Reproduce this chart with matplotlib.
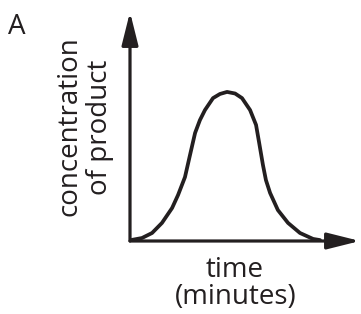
import matplotlib.pyplot as plt

# points (time in arbitrary units, concentration in arbitrary units)
time_vals = [0.04, 0.52, 0.96, 1.39, 1.83, 2.09, 2.39, 2.61, 2.83, 3.04, 3.26, 3.61,
             3.91, 4.22, 4.57, 4.87, 5.22, 5.48, 5.61, 5.78, 5.91, 6.09, 6.43,
             6.87, 7.39, 7.96, 8.26]
conc_vals = [0.04, 0.13, 0.35, 0.79, 1.44, 2.01, 2.79, 3.76, 4.72, 5.28, 5.72, 6.24,
             6.42, 6.51, 6.44, 6.24, 5.72, 5.07, 4.32, 3.32, 2.66, 2.10, 1.35,
             0.79, 0.35, 0.09, 0.04]

x_label_1 = 'time'
x_label_2 = '(minutes)'
y_label_1 = 'concentration'
y_label_2 = 'of product'
panel = 'A'

ink = '#231f20'
W, H = 361, 314

fig = plt.figure(figsize=(W / 100, H / 100), dpi=100)
plt.rcParams['font.family'] = ['Open Sans', 'DejaVu Sans']

# axes: origin at (130, 241) px, arrow tips at x=360 and y=12
ax = fig.add_axes([130 / W, (H - 241) / H, (360 - 130) / W, (241 - 12) / H])
ax.set_xlim(0, 10)
ax.set_ylim(0, 10)
ax.axis('off')

arrow = dict(arrowstyle='-|>,head_length=2.0,head_width=0.5', lw=2.3,
             color=ink, shrinkA=0, shrinkB=0)
ax.annotate('', xy=(1, 0), xytext=(0, 0), xycoords='axes fraction',
            arrowprops=arrow)
ax.annotate('', xy=(0, 1), xytext=(0, 0), xycoords='axes fraction',
            arrowprops=arrow)

ax.plot(time_vals, conc_vals, color=ink, lw=2.7, solid_capstyle='round',
        solid_joinstyle='round', clip_on=False)

fs = 20
fig.text(8 / W, 1 - 13 / H, panel, fontsize=20, color=ink, ha='left', va='top')
fig.text(77 / W, 1 - 126 / H, y_label_1, fontsize=fs, color=ink, rotation=90,
         rotation_mode='anchor', ha='center', va='baseline')
fig.text(107 / W, 1 - 127 / H, y_label_2, fontsize=fs, color=ink, rotation=90,
         rotation_mode='anchor', ha='center', va='baseline')
fig.text(235 / W, 1 - 277 / H, x_label_1, fontsize=fs, color=ink,
         ha='center', va='baseline')
fig.text(236 / W, 1 - 304 / H, x_label_2, fontsize=fs, color=ink,
         ha='center', va='baseline')

plt.savefig('out.png', dpi=100)
plt.close()
